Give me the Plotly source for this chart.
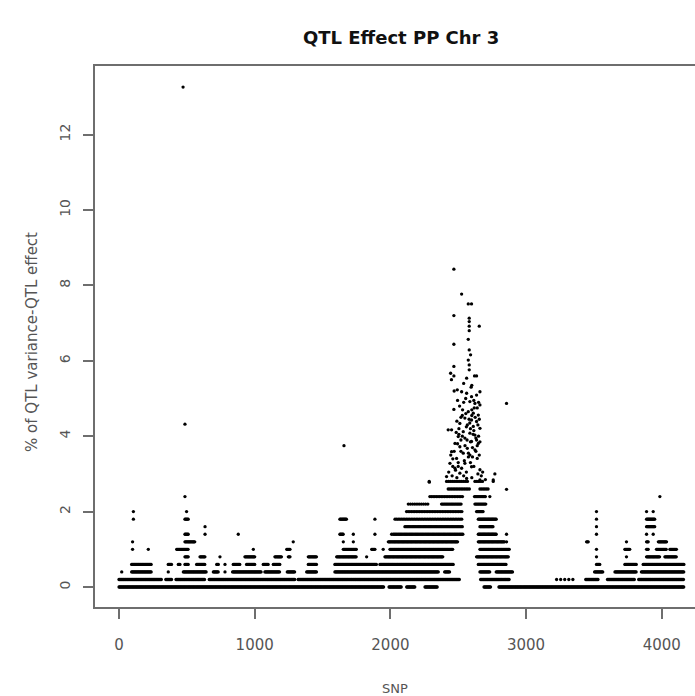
import plotly.graph_objects as go

# ---------------- data ----------------
# SNP runs (start, end[, spacing]) for each value level of the quantised low effects
runs_0_0 = [(0, 1950), (1990, 2080), (2120, 2180), (2255, 2345), (2690, 2740), (2800, 4165)]
runs_0_2 = [(0, 315), (345, 390), (420, 635), (665, 1297), (1320, 2510), (2665, 2880),
            (3225, 3350, 30), (3440, 3530), (3600, 3800), (3830, 4165)]
runs_0_4 = [(20, 20), (93, 240), (363, 363), (474, 646), (695, 732), (781, 781), (837, 1051),
            (1075, 1186), (1240, 1297), (1383, 1456), (1591, 2353), (2400, 2440), (2660, 2734),
            (2780, 2900), (3505, 3570), (3655, 3815), (3850, 4165)]
runs_0_6 = [(93, 240), (363, 388), (437, 450), (486, 510), (572, 634), (720, 732), (781, 781),
            (842, 891), (940, 1002), (1063, 1100), (1137, 1186), (1395, 1456), (1591, 1898),
            (1923, 2463), (2648, 2856), (3519, 3544), (3728, 3815), (3863, 4165)]
runs_0_8 = [(486, 510), (597, 634), (744, 744), (928, 1002), (1149, 1198), (1248, 1260),
            (1395, 1456), (1604, 1751), (1825, 1825), (1960, 2390), (2635, 2869), (3519, 3519),
            (3740, 3740), (3888, 3986), (4023, 4109)]
runs_1_0 = [(100, 100), (216, 216), (425, 510), (990, 990), (1236, 1260), (1653, 1751),
            (1862, 1886), (1947, 1947), (1997, 2463), (2660, 2880), (3519, 3519), (3728, 3765),
            (3888, 3900), (3961, 4035), (4060, 4109)]
runs_1_2 = [(100, 100), (486, 560), (1284, 1284), (1653, 1653), (1727, 1727), (1985, 2500),
            (2648, 2844), (2856, 2856), (3446, 3458), (3740, 3740), (3888, 3900), (3975, 4035)]
runs_1_4 = [(486, 510), (634, 634), (879, 879), (1628, 1653), (1727, 1727), (1886, 1886),
            (2009, 2009), (2021, 2537, 9), (2648, 2783), (2856, 2856), (3519, 3519), (3888, 3888),
            (3937, 3937)]
runs_1_6 = [(634, 634), (2107, 2537, 9), (2660, 2758), (3519, 3519), (3888, 3949)]
runs_1_8 = [(106, 106), (486, 510), (1628, 1677), (1886, 1886), (2034, 2034), (2046, 2537, 12),
            (2648, 2783), (3519, 3519), (3888, 3949)]
runs_2_0 = [(106, 106), (498, 498), (2119, 2537, 12), (2635, 2684), (3519, 3519), (3888, 3888),
            (3937, 3937)]
runs_2_2 = [(2132, 2291, 16), (2377, 2525, 9), (2623, 2709, 8)]
runs_2_4 = [(486, 486), (2291, 2537, 12), (2620, 2700, 8), (2733, 2733), (3986, 3986)]
runs_2_6 = [(2426, 2586, 12), (2660, 2730, 12)]
runs_2_8 = [(2286, 2286), (2414, 2574, 14), (2623, 2684, 14), (2758, 2758)]

band_levels = [0.0, 0.2, 0.4, 0.6, 0.8, 1.0, 1.2, 1.4, 1.6, 1.8, 2.0, 2.2, 2.4, 2.6, 2.8]
band_runs = [runs_0_0, runs_0_2, runs_0_4, runs_0_6, runs_0_8, runs_1_0, runs_1_2, runs_1_4,
             runs_1_6, runs_1_8, runs_2_0, runs_2_2, runs_2_4, runs_2_6, runs_2_8]

# individual larger effects
peak_snp = [472, 486, 1658, 2468, 2525, 2574, 2598, 2468, 2581, 2581, 2581, 2655, 2581, 2574,
            2468, 2581, 2591, 2574, 2581, 2468, 2581, 2444, 2468, 2635, 2562, 2493, 2525, 2562,
            2598, 2635, 2660, 2586, 2623, 2660, 2468, 2532, 2574, 2611, 2648, 2549, 2598, 2635,
            2512, 2567, 2611, 2660, 2426, 2451, 2537, 2586, 2623, 2500, 2549, 2598, 2648, 2476,
            2512, 2567, 2623, 2451, 2537, 2586, 2488, 2640, 2439, 2549, 2598, 2476, 2660, 2512,
            2770, 2414, 2562, 2287, 2856, 2856, 2758, 2660, 2505, 2520, 2556, 2580, 2605, 2618,
            2630, 2545, 2590, 2615, 2500, 2530, 2575, 2640, 2480, 2460, 2595, 2650,
            2495, 2510, 2540, 2555, 2600, 2615, 2640, 2650, 2490, 2520, 2560, 2585, 2600, 2625,
            2645, 2655, 2485, 2505, 2530, 2565, 2590, 2610, 2635, 2660, 2470, 2495, 2520, 2550,
            2575, 2605, 2630, 2655, 2445, 2460, 2500, 2525, 2560, 2590, 2615, 2645, 2430, 2455,
            2490, 2540, 2600, 2670, 2680, 2700, 2450, 2470, 2540, 2600, 2620]
peak_val = [13.26, 4.32, 3.75, 8.43, 7.77, 7.51, 7.51, 7.20, 7.13, 7.04, 6.92, 6.92, 6.80, 6.57,
            6.44, 6.29, 6.16, 6.02, 5.89, 5.85, 5.76, 5.67, 5.60, 5.60, 5.54, 5.23, 5.18, 5.14,
            5.05, 5.09, 5.18, 4.92, 4.87, 4.83, 4.71, 4.70, 4.65, 4.61, 4.56, 4.48, 4.43, 4.39,
            4.34, 4.30, 4.26, 4.21, 4.17, 4.17, 4.12, 4.08, 4.03, 3.99, 3.95, 3.86, 3.81, 3.81,
            3.72, 3.68, 3.64, 3.59, 3.55, 3.50, 3.41, 3.41, 3.28, 3.28, 3.19, 3.15, 3.11, 3.02,
            3.00, 2.93, 2.88, 2.78, 2.59, 4.87, 2.84, 2.84, 4.05, 3.90, 4.60, 4.45, 3.70, 4.75,
            3.95, 3.35, 4.20, 4.15, 3.20, 4.55, 3.45, 3.75, 3.10, 3.40, 5.30, 4.00,
            4.95, 4.80, 4.90, 5.00, 4.70, 4.95, 4.75, 4.90, 4.40, 4.50, 4.25, 4.35, 4.55, 4.50,
            4.30, 4.45, 4.10, 4.20, 4.00, 3.90, 3.85, 4.05, 3.90, 3.85, 3.60, 3.80, 3.60, 3.75,
            3.55, 3.45, 3.60, 3.50, 3.50, 3.20, 3.30, 3.15, 3.05, 3.30, 3.20, 3.00, 3.05, 2.95,
            2.90, 2.95, 2.90, 2.95, 3.05, 2.85, 5.50, 5.20, 5.40, 5.35, 5.60]

x_ticks = [0, 1000, 2000, 3000, 4000]
y_ticks = [0, 2, 4, 6, 8, 10, 12]

# ---------------- build points ----------------
xs, ys = [], []
for level, runs in zip(band_levels, band_runs):
    for run in runs:
        a, b = run[0], run[1]
        step = run[2] if len(run) > 2 else 6
        pts = list(range(a, b + 1, step)) if b > a else [a]
        xs.extend(pts)
        ys.extend([level] * len(pts))
xs.extend(peak_snp)
ys.extend(peak_val)

FONT = "DejaVu Sans, Arial, sans-serif"
AX = "#6e6e6e"

fig = go.Figure(go.Scatter(x=xs, y=ys, mode="markers",
                           marker=dict(size=3.3, color="black", line=dict(width=0)),
                           hoverinfo="skip", showlegend=False))

fig.update_layout(
    width=695, height=696,
    margin=dict(l=95, r=0, t=66, b=89),
    plot_bgcolor="white", paper_bgcolor="white",
    font=dict(family=FONT, color="#444"),
    xaxis=dict(range=[-177, 4245], tickvals=x_ticks, ticktext=[str(v) for v in x_ticks],
               ticks="outside", ticklen=10, tickwidth=1.5, tickcolor=AX,
               showline=True, linecolor=AX, linewidth=1.5, mirror=True,
               showgrid=False, zeroline=False, tickfont=dict(size=15, color="#555"),
               ticklabelstandoff=13),
    yaxis=dict(range=[-0.53, 13.82], tickvals=y_ticks, ticktext=[str(v) for v in y_ticks],
               ticks="outside", ticklen=10, tickwidth=1.5, tickcolor=AX, tickangle=-90,
               showline=True, linecolor=AX, linewidth=1.5, mirror=False,
               showgrid=False, zeroline=False, tickfont=dict(size=14, color="#555"),
               ticklabelstandoff=8),
    annotations=[
        dict(text="<b>QTL Effect PP Chr 3</b>", xref="paper", yref="paper", x=0.51, y=1,
             yshift=29, xanchor="center", yanchor="middle", showarrow=False,
             font=dict(size=18, color="#111", family=FONT)),
        dict(text="SNP", xref="paper", yref="paper", x=0.5, y=0, yshift=-81,
             xanchor="center", yanchor="middle", showarrow=False,
             font=dict(size=13, color="#555", family=FONT)),
        dict(text="% of QTL variance-QTL effect", xref="paper", yref="paper", x=0, y=0.49,
             xshift=-63, xanchor="center", yanchor="middle", textangle=-90, showarrow=False,
             font=dict(size=15, color="#555", family=FONT)),
    ],
)

fig.write_html("out.html", config={"displayModeBar": False},
               post_script="document.body.style.margin='0';")
